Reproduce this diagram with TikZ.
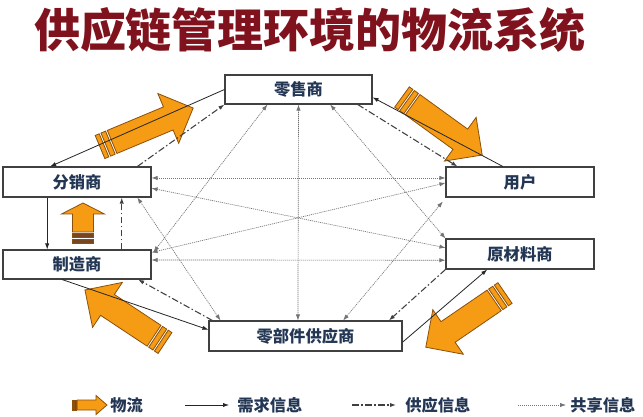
\documentclass[tikz,border=0pt]{standalone}
\usepackage{fontspec}
\newfontfamily\cjk{Noto Sans CJK SC}
\usetikzlibrary{arrows.meta,calc}
\definecolor{titlered}{RGB}{128,18,30}
\definecolor{boxtext}{RGB}{35,55,85}
\definecolor{orng}{RGB}{245,155,20}
\definecolor{orngline}{RGB}{140,80,10}
\definecolor{stripdark}{RGB}{120,70,30}
\tikzset{
 box/.style={draw=black!75, line width=0.8pt, fill=white, inner sep=0pt, font=\cjk\bfseries\fontsize{12.2}{13}\selectfont, text=boxtext},
 demand/.style={-{Latex[length=4.5pt,width=3.2pt]}, line width=0.6pt, black!85},
 supply/.style={-{Latex[length=4.5pt,width=3.2pt]}, line width=0.8pt, black!75, dash pattern=on 5pt off 1.8pt on 1.2pt off 1.8pt},
 shareline/.style={line width=0.5pt, black!55, dash pattern=on 0.8pt off 0.7pt},
 share/.style={shareline, {Latex[length=4.5pt,width=3.2pt]}-{Latex[length=4.5pt,width=3.2pt]}},
 shareone/.style={shareline, -{Latex[length=4.5pt,width=3.2pt]}},
 flow/.style={fill=orng, draw=orngline, line width=0.6pt, line join=miter},
 legendtext/.style={font=\cjk\bfseries\fontsize{12.2}{13}\selectfont, text=boxtext, anchor=west, inner sep=0pt}
}
% #1,#2 tail; #3 angle; #4 length; #5 shaft half; #6 head half; #7 head length; #8 strip colour
\newcommand{\flowarrow}[8]{%
 \begin{scope}[shift={(#1,#2)}, rotate=#3]
  \pgfmathsetmacro{\sa}{0.35*#5}
  \pgfmathsetmacro{\sb}{0.5*#5}
  \pgfmathsetmacro{\sc}{0.9*#5}
  \pgfmathsetmacro{\sd}{1.05*#5}
  \pgfmathsetmacro{\hb}{#4-#7}
  \path[flow] (\sd,-#5) -- (\hb,-#5) -- (\hb,-#6) -- (#4,0) -- (\hb,#6) -- (\hb,#5) -- (\sd,#5) -- cycle;
  \path[flow, fill=#8] (0,-#5) rectangle (\sa,#5);
  \path[flow, fill=#8] (\sb,-#5) rectangle (\sc,#5);
 \end{scope}}
\begin{document}
\begin{tikzpicture}[x=0.75pt,y=-0.75pt]
\useasboundingbox[fill=white] (0,0) rectangle (643,417);

% title
\node[font=\cjk\bfseries\fontsize{34.5}{36}\selectfont, text=titlered] (title) at (310,30) {供应链管理环境的物流系统};

% flow arrows (under the connectors)
\flowarrow{100}{147}{22.7}{101}{12.5}{27}{27}{orng}
\flowarrow{402}{97}{-35.9}{99}{12.5}{27}{27}{orng}
\flowarrow{83}{243}{90}{40}{10.5}{21.5}{11}{stripdark}
\flowarrow{165}{343}{146.5}{96}{12.5}{27}{27}{orng}
\flowarrow{505}{293}{-145.6}{96}{12.5}{27}{27}{orng}

% boxes
\node[box, minimum width=110.25pt, minimum height=21.75pt] (ls)  at (298.5,89.5) {零售商};
\node[box, minimum width=111pt, minimum height=22.5pt]    (fx)  at (77,182)    {分销商};
\node[box, minimum width=111pt, minimum height=22.5pt]    (yh)  at (520,182)   {用户};
\node[box, minimum width=111pt, minimum height=21.75pt]   (zz)  at (77,264.5)  {制造商};
\node[box, minimum width=111pt, minimum height=22.5pt]    (ycl) at (520,254)   {原材料商};
\node[box, minimum width=144.75pt, minimum height=22.5pt] (lbj) at (305.5,336) {零部件供应商};

% shared information (dotted, both ends)
\draw[share] ($(ls.south west)!0.5!(ls.south east)$) -- ($(lbj.north west)!0.461!(lbj.north east)$);
\draw[share] ($(ls.south west)!0.29!(ls.south east)$) -- ([xshift=1.5pt,yshift=-2pt]zz.north east);
\draw[share] ($(ls.south west)!0.714!(ls.south east)$) -- (ycl.north west);
\draw[share] ($(fx.north east)!0.37!(fx.south east)$) -- ($(yh.north west)!0.37!(yh.south west)$);
\draw[share] ($(fx.north east)!0.7!(fx.south east)$) -- ($(ycl.north west)!0.3!(ycl.south west)$);
\draw[share] ($(fx.south west)!0.905!(fx.south east)$) -- ($(lbj.north west)!0.062!(lbj.north east)$);
\draw[share] ($(zz.north east)!0.1!(zz.south east)$) -- ($(yh.north west)!0.53!(yh.south west)$);
\draw[share] ($(zz.north east)!0.35!(zz.south east)$) -- ($(ycl.north west)!0.7!(ycl.south west)$);
\draw[share] ([xshift=-2pt,yshift=-3pt]yh.south west) -- ($(lbj.north west)!0.694!(lbj.north east)$);

% demand information (solid)
\draw[demand] (ls.west) -- ($(fx.north west)!0.32!(fx.north east)$);
\draw[demand] ($(fx.south west)!0.3!(fx.south east)$) -- ($(zz.north west)!0.3!(zz.north east)$);
\draw[demand] ($(zz.south west)!0.4!(zz.south east)$) -- ($(lbj.north west)!0.3!(lbj.south west)$);
\draw[demand] ($(lbj.north east)!0.7!(lbj.south east)$) -- ($(ycl.south west)!0.28!(ycl.south east)$);
\draw[demand] ($(yh.north west)!0.385!(yh.north east)$) -- ($(ls.north east)!0.76!(ls.south east)$);

% supply information (dash-dot)
\draw[supply] ($(fx.north west)!0.905!(fx.north east)$) -- (ls.south west);
\draw[supply] ($(ls.south west)!0.9!(ls.south east)$) -- ($(yh.north west)!0.08!(yh.north east)$);
\draw[supply] ($(zz.north west)!0.8!(zz.north east)$) -- ($(fx.south west)!0.8!(fx.south east)$);
\draw[supply] ($(lbj.north west)!0.02!(lbj.north east)$) -- ($(zz.south west)!0.91!(zz.south east)$);
\draw[supply] (ycl.south west) -- ($(lbj.north west)!0.93!(lbj.north east)$);

% legend
\flowarrow{72}{405}{0}{35}{5}{9.5}{11}{stripdark}
\node[legendtext] (l1) at (110,405) {物流};
\coordinate (d1) at (185,405);
\coordinate (d2) at (229,405);
\draw[demand] (d1) -- (d2);
\node[legendtext] (l2) at (237,405) {需求信息};
\coordinate (s1) at (352,405);
\coordinate (s2) at (396,405);
\draw[supply] (s1) -- (s2);
\node[legendtext] (l3) at (405,405) {供应信息};
\coordinate (h1) at (518,405);
\coordinate (h2) at (566,405);
\draw[shareone] (h1) -- (h2);
\node[legendtext] (l4) at (570,405) {共享信息};
\end{tikzpicture}
\end{document}
